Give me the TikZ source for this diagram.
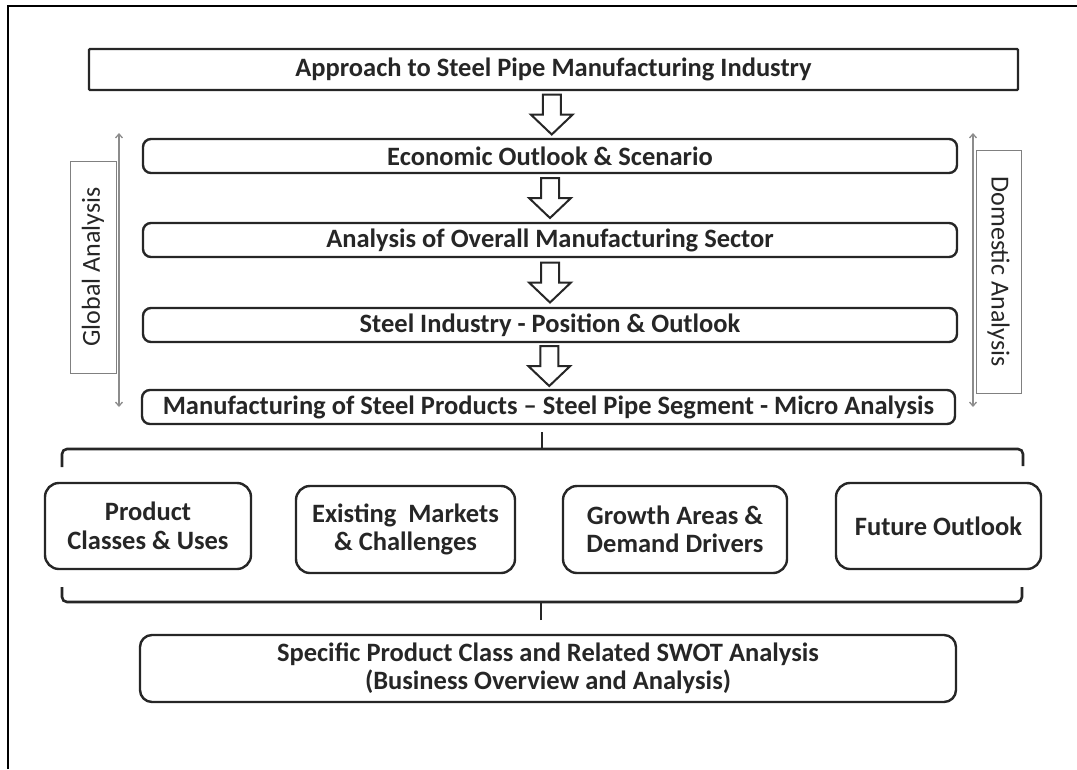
\documentclass[tikz,border=0pt]{standalone}
\usepackage{fontspec}
\setmainfont{Carlito}
\usetikzlibrary{calc,arrows.meta}
\tikzset{
  hollow/.pic={
    \draw[line width=2pt,draw=black!85,fill=white,line join=miter]
      (-9,-20) -- (-9,0) -- (-21,0) -- (0,20) -- (21,0) -- (9,0) -- (9,-20) -- cycle;
  },
}

\begin{document}
\begin{tikzpicture}[
    x=1pt,y=-1pt,
    box/.style={draw=black!85,line width=2.4pt,rounded corners=8pt,align=center,inner sep=0pt,
      text=black!85,font=\bfseries\fontsize{26.5}{28.5}\selectfont},
    sub/.style={box,rounded corners=14pt},
    side/.style={draw=black!50,line width=1pt,align=center,inner sep=0pt,
      text=black!85,font=\fontsize{26}{28}\selectfont},
    span/.style={draw=black!45,line width=1.3pt,{Straight Barb[length=4pt,width=7pt]}-{Straight Barb[length=4pt,width=7pt]}},
    brace/.style={draw=black!85,line width=2.6pt,rounded corners=5pt},
    ]
    \useasboundingbox (0,0) rectangle (1077,769);
    \draw[line width=1.5pt] (8,769) -- (8,6) -- (1077,6);

    % main column
    \node[box,rounded corners=1pt,minimum width=929,minimum height=41] (top) at (553.5,69.5)
      {Approach to Steel Pipe Manufacturing Industry};
    \node[box,minimum width=814,minimum height=34] (eco) at (550,156) {Economic Outlook \& Scenario};
    \node[box,minimum width=814,minimum height=34] (mfg) at (550,240) {Analysis of Overall Manufacturing Sector};
    \node[box,minimum width=814,minimum height=34] (steel) at (550,325) {Steel Industry - Position \& Outlook};
    \node[box,minimum width=813,minimum height=34] (micro) at (548.5,407)
      {Manufacturing of Steel Products -- Steel Pipe Segment - Micro Analysis};
    \foreach \a/\b in {top/eco,eco/mfg,mfg/steel,steel/micro}
      \pic at ($(\a.south)!0.5!(\b.north)$) {hollow};

    % side labels
    \node[side,rotate=90,minimum width=212,minimum height=46] (global) at (93,267) {Global Analysis};
    \node[side,rotate=-90,minimum width=243,minimum height=45] (domestic) at (998.5,271.5) {Domestic Analysis};
    \coordinate (g1) at (119,133);
    \coordinate (g2) at (119,407);
    \coordinate (d1) at (973,133);
    \coordinate (d2) at (973,407);
    \draw[span] (g1) -- (g2);
    \draw[span] (d1) -- (d2);

    % four topics
    \node[sub,minimum width=206,minimum height=86] (classes) at (148,526) {Product\\Classes \& Uses};
    \node[sub,minimum width=219,minimum height=87] (markets) at (405.5,529.5) {Existing~ Markets\\\& Challenges};
    \node[sub,minimum width=224,minimum height=87] (growth) at (675,529.5) {Growth Areas \&\\Demand Drivers};
    \node[sub,minimum width=205,minimum height=86] (future) at (938.5,526) {Future Outlook};

    % braces
    \coordinate (b1) at (542,432);
    \coordinate (b2) at (541,620);
    \draw[brace] (62,467) -- (62,449) -- (1023,449) -- (1023,466);
    \draw[brace,rounded corners=0pt] (b1) -- (b1 |- 0,449);
    \draw[brace] (62,587) -- (62,602) -- (1022,602) -- (1022,587);
    \draw[brace,rounded corners=0pt] (b2) -- (b2 |- 0,602);

    \node[box,rounded corners=12pt,minimum width=816,minimum height=67] (swot) at (548,668.5)
      {Specific Product Class and Related SWOT Analysis\\(Business Overview and Analysis)};
  \end{tikzpicture}
\end{document}
